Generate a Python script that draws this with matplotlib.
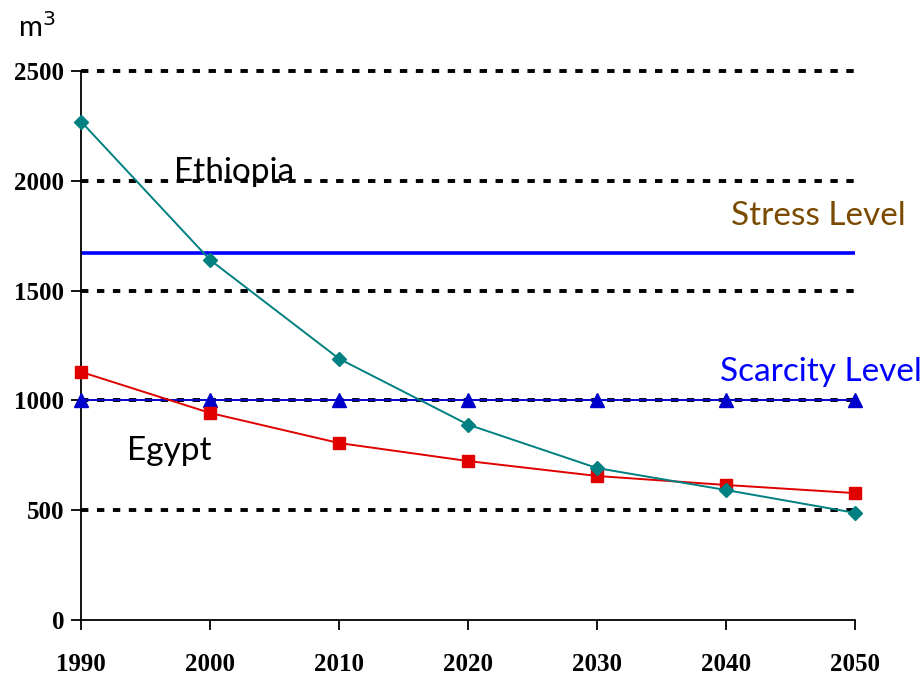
import numpy as np
import matplotlib.pyplot as plt

# water availability per capita (m3/year)
years = [1990, 2000, 2010, 2020, 2030, 2040, 2050]
ethiopia = [2270, 1640, 1190, 890, 692, 592, 488]
egypt = [1130, 943, 806, 724, 656, 615, 578]
scarcity = [1000, 1000, 1000, 1000, 1000, 1000, 1000]
stress = [1670, 1670, 1670, 1670, 1670, 1670, 1670]
yticks = [0, 500, 1000, 1500, 2000, 2500]

label_font = 'Lato'

fig = plt.figure(figsize=(9.24, 6.78), dpi=100)
ax = fig.add_axes([0.0877, 0.0855, 0.8377, 0.8097])

# dashed horizontal grid (no line at zero)
for y in yticks[1:]:
    ax.axhline(y, color='black', lw=2.8, linestyle=(0, (1.9, 2.2)), zorder=1,
               xmax=1.006, clip_on=False)

ax.plot(years, stress, color='#0000ff', lw=2.6, zorder=2)
ax.plot(years, scarcity, color='#0000cc', lw=1.4, marker='^', ms=10,
        zorder=3, clip_on=False)
ax.plot(years, egypt, color='#e00000', lw=1.4, marker='s', ms=8,
        zorder=4, clip_on=False)
ax.plot(years, ethiopia, color='#008080', lw=1.4, marker='D', ms=7,
        zorder=5, clip_on=False)

ax.set_xlim(1990, 2050)
ax.set_ylim(0, 2500)
ax.set_xticks(years)
ax.set_yticks(yticks)
for lab in ax.get_xticklabels() + ax.get_yticklabels():
    lab.set_fontfamily('Liberation Serif')
    lab.set_fontweight('bold')
    lab.set_fontsize(18)
ax.tick_params(axis='both', direction='out', length=7, width=1.3)
ax.tick_params(axis='x', pad=17)
ax.tick_params(axis='y', pad=5)
for side in ['top', 'right']:
    ax.spines[side].set_visible(False)
for side in ['left', 'bottom']:
    ax.spines[side].set_linewidth(1.3)

ax.text(1997.2, 2040, 'Ethiopia', fontsize=24, family=label_font, ha='left', va='center')
ax.text(1993.6, 770, 'Egypt', fontsize=24, family=label_font, ha='left', va='center')
ax.text(2053.9, 1840, 'Stress Level', fontsize=24, family=label_font,
        color='#7a4a00', ha='right', va='center', clip_on=False)
ax.text(2055.2, 1130, 'Scarcity Level', fontsize=24, family=label_font,
        color='#0000ff', ha='right', va='center', clip_on=False)
fig.text(0.020, 0.960, 'm$^3$', fontsize=21, family=label_font, ha='left', va='center')

fig.savefig('out.png', dpi=100)
